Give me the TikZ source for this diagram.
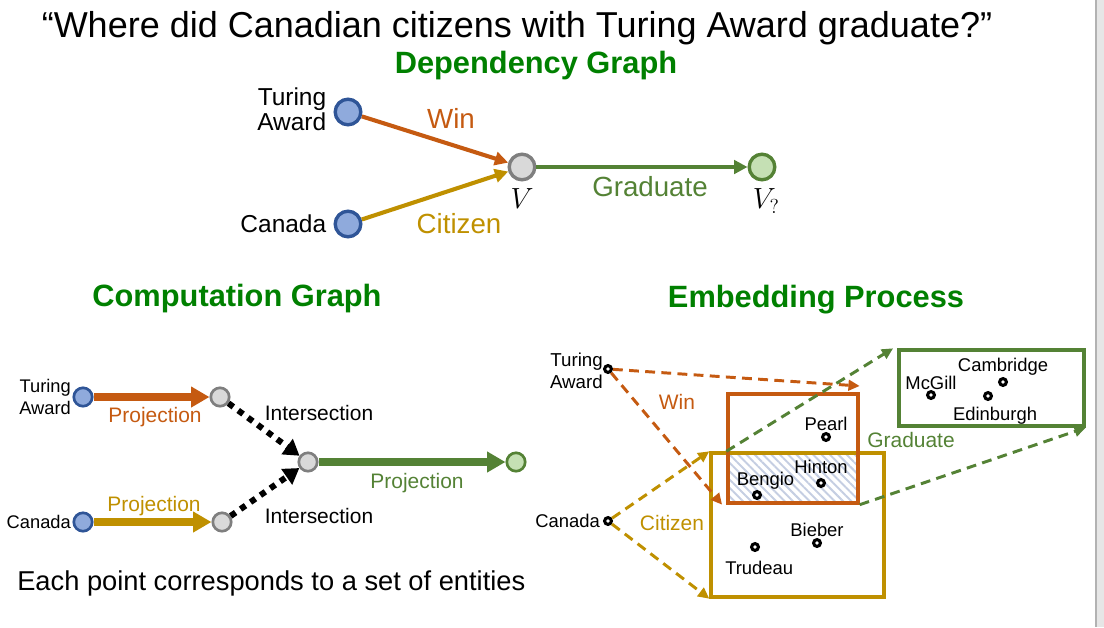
\documentclass[tikz,border=0pt]{standalone}
\usepackage{fontspec}
\setmainfont{Liberation Sans}
\usetikzlibrary{arrows.meta,patterns.meta,fit}

\definecolor{winorange}{HTML}{C55A11}
\definecolor{citgold}{HTML}{BF9000}
\definecolor{gradgreen}{HTML}{548235}
\definecolor{headgreen}{HTML}{008000}
\definecolor{anchorfill}{HTML}{8FAADC}
\definecolor{anchordraw}{HTML}{2F5597}
\definecolor{varfill}{HTML}{D9D9D9}
\definecolor{vardraw}{HTML}{7F7F7F}
\definecolor{ansfill}{HTML}{C5E0B4}
\definecolor{hatchblue}{HTML}{C5CEE2}
\definecolor{slideedge}{HTML}{E6E6E6}

\tikzset{
  qtitle/.style={font=\fontsize{25.6}{30}\selectfont,anchor=base},
  header/.style={font=\bfseries\fontsize{21.9}{26}\selectfont,text=headgreen,anchor=base},
  anchorv/.style={circle,fill=anchorfill,draw=anchordraw,line width=2.4pt,minimum size=0.64cm,inner sep=0pt},
  varv/.style={circle,fill=varfill,draw=vardraw,line width=2.4pt,minimum size=0.64cm,inner sep=0pt},
  ansv/.style={circle,fill=ansfill,draw=gradgreen,line width=2.4pt,minimum size=0.64cm,inner sep=0pt},
  smallv/.style={minimum size=0.46cm,line width=1.9pt},
  deplbl/.style={font=\fontsize{17.4}{14.6}\selectfont,inner sep=2pt,label distance=3pt},
  vlbl/.style={font=\fontsize{21.5}{24}\selectfont,inner sep=1pt,label distance=4pt},
  rellbl/.style={font=\fontsize{19.7}{22}\selectfont},
  complbl/.style={font=\fontsize{13}{15}\selectfont,inner sep=0pt,label distance=1pt},
  opnlbl/.style={font=\fontsize{14.9}{17}\selectfont},
  deparrow/.style={line width=2.9pt,-{Triangle[length=9.5pt,width=9.5pt]}},
  comparrow/.style={line width=5pt,-{Triangle[length=13pt,width=14pt]}},
  meetarrow/.style={line width=4.3pt,dash pattern=on 4.3pt off 4.3pt,-{Triangle[length=11pt,width=13pt]}},
  embarrow/.style={line width=2.1pt,dash pattern=on 7pt off 4.5pt,-{Triangle[length=8pt,width=7.5pt]}},
  setbox/.style={line width=2.4pt,inner sep=0pt},
  ent/.style={circle,draw=black,fill=white,line width=2.2pt,minimum size=0.17cm,inner sep=0pt},
  entlbl/.style={font=\fontsize{13.1}{15}\selectfont,inner sep=1pt}
}

\begin{document}
\begin{tikzpicture}[x=0.025cm,y=-0.025cm]
  \useasboundingbox (0,0) rectangle (1104,627);
  % slide edge
  \fill[slideedge] (1096,0) rectangle (1104,627);
  \draw[gray!60,line width=0.8pt] (1096,0) -- (1096,627);

  \node[qtitle] (question) at (517,37) {“Where did Canadian citizens with Turing Award graduate?”};
  \node[header] (dephead) at (536,73) {Dependency Graph};
  \node[header] (comphead) at (237,306) {Computation Graph};
  \node[header] (embhead) at (816,307) {Embedding Process};

  % dependency graph
  \node[anchorv,label={[deplbl,align=right,yshift=2pt]left:Turing\\Award}] (ta) at (348,112) {};
  \node[anchorv,label={[deplbl]left:Canada}] (ca) at (348,224) {};
  \node[varv,label={[vlbl]below:$V$}] (v) at (522,167) {};
  \node[ansv,label={[vlbl,xshift=3pt]below:$V_?$}] (vq) at (762,167) {};
  \draw[deparrow,winorange] (ta) -- (v);
  \draw[deparrow,citgold] (ca) -- (v);
  \draw[deparrow,gradgreen] (v) -- (vq);
  \node[rellbl,text=winorange] (winlbl) at (451,118) {Win};
  \node[rellbl,text=citgold] (citlbl) at (459,224) {Citizen};
  \node[rellbl,text=gradgreen] (gradlbl) at (650,187) {Graduate};

  % computation graph
  \node[anchorv,smallv,label={[complbl,align=right]left:Turing\\Award}] (cta) at (83,397) {};
  \node[anchorv,smallv,label={[complbl]left:Canada}] (cca) at (83,522) {};
  \node[varv,smallv] (cp1) at (220,397) {};
  \node[varv,smallv] (cp2) at (222,522) {};
  \node[varv,smallv] (cmeet) at (308,462) {};
  \node[ansv,smallv] (cans) at (516,462) {};
  \draw[comparrow,winorange] (cta) -- (cp1);
  \draw[comparrow,citgold] (cca) -- (cp2);
  \draw[meetarrow] (cp1) -- (cmeet);
  \draw[meetarrow] (cp2) -- (cmeet);
  \draw[comparrow,gradgreen] (cmeet) -- (cans);
  \node[opnlbl,text=winorange] at (155,417) {Projection};
  \node[opnlbl,text=citgold] at (154,506) {Projection};
  \node[opnlbl] at (319,413) {Intersection};
  \node[opnlbl] at (319,516) {Intersection};
  \node[opnlbl,text=gradgreen] at (417,483) {Projection};

  \node[font=\fontsize{19.4}{23}\selectfont,anchor=base west,inner sep=0pt] (note) at (17,590)
    {Each point corresponds to a set of entities};

  % embedding process
  \coordinate (wintl) at (728,394);
  \coordinate (winbr) at (858,503);
  \coordinate (cittl) at (711,453);
  \coordinate (citbr) at (884,597);
  \coordinate (gradtl) at (899,350);
  \coordinate (gradbr) at (1084,426);
  \fill[pattern={Lines[angle=-45,distance=4.2pt,line width=1.4pt]},pattern color=hatchblue]
    (wintl |- cittl) rectangle (winbr);
  \node[setbox,draw=citgold,fit=(cittl)(citbr)] (citset) {};
  \node[setbox,draw=winorange,fit=(wintl)(winbr)] (winset) {};
  \node[setbox,draw=gradgreen,fit=(gradtl)(gradbr)] (gradset) {};

  \node[ent,label={[entlbl,align=right,font=\fontsize{13.3}{15.6}\selectfont,inner sep=0pt,yshift=-1pt]left:Turing\\Award}] (eta) at (608,369) {};
  \node[ent,label={[entlbl,label distance=1pt]left:Canada}] (eca) at (608,521) {};

  \draw[embarrow,winorange] (eta) -- ([yshift=4.5pt]winset.north east);
  \draw[embarrow,winorange] (eta) -- ([xshift=-3pt]winset.south west);
  \draw[embarrow,citgold] (eca) -- (citset.north west);
  \draw[embarrow,citgold] (eca) -- (citset.south west);
  \draw[embarrow,gradgreen] (winset.west |- citset.north) -- ([xshift=-3pt]gradset.north west);
  \draw[embarrow,gradgreen] (winset.south east) -- (gradset.south east);

  \node[ent,label={[entlbl]above:Pearl}] (pearl) at (826,437) {};
  \node[ent,label={[entlbl,label distance=2pt]above:Hinton}] (hinton) at (821,483) {};
  \node[ent,label={[entlbl,xshift=6pt,label distance=-1pt]above:Bengio}] (bengio) at (757,495) {};
  \node[ent,label={[entlbl]above:Bieber}] (bieber) at (817,543) {};
  \node[ent,label={[entlbl,xshift=3pt,label distance=5pt]below:Trudeau}] (trudeau) at (755,547) {};
  \node[ent,label={[entlbl,label distance=-1pt]above:McGill}] (mcgill) at (931,395) {};
  \node[ent,label={[entlbl]above:Cambridge}] (cambridge) at (1003,382) {};
  \node[ent,label={[entlbl,xshift=5pt,label distance=3pt]below:Edinburgh}] (edinburgh) at (988,396) {};

  \node[opnlbl,text=winorange] at (677,402) {Win};
  \node[opnlbl,text=citgold] at (672,523) {Citizen};
  \node[opnlbl,text=gradgreen] at (911,440) {Graduate};
\end{tikzpicture}
\end{document}
